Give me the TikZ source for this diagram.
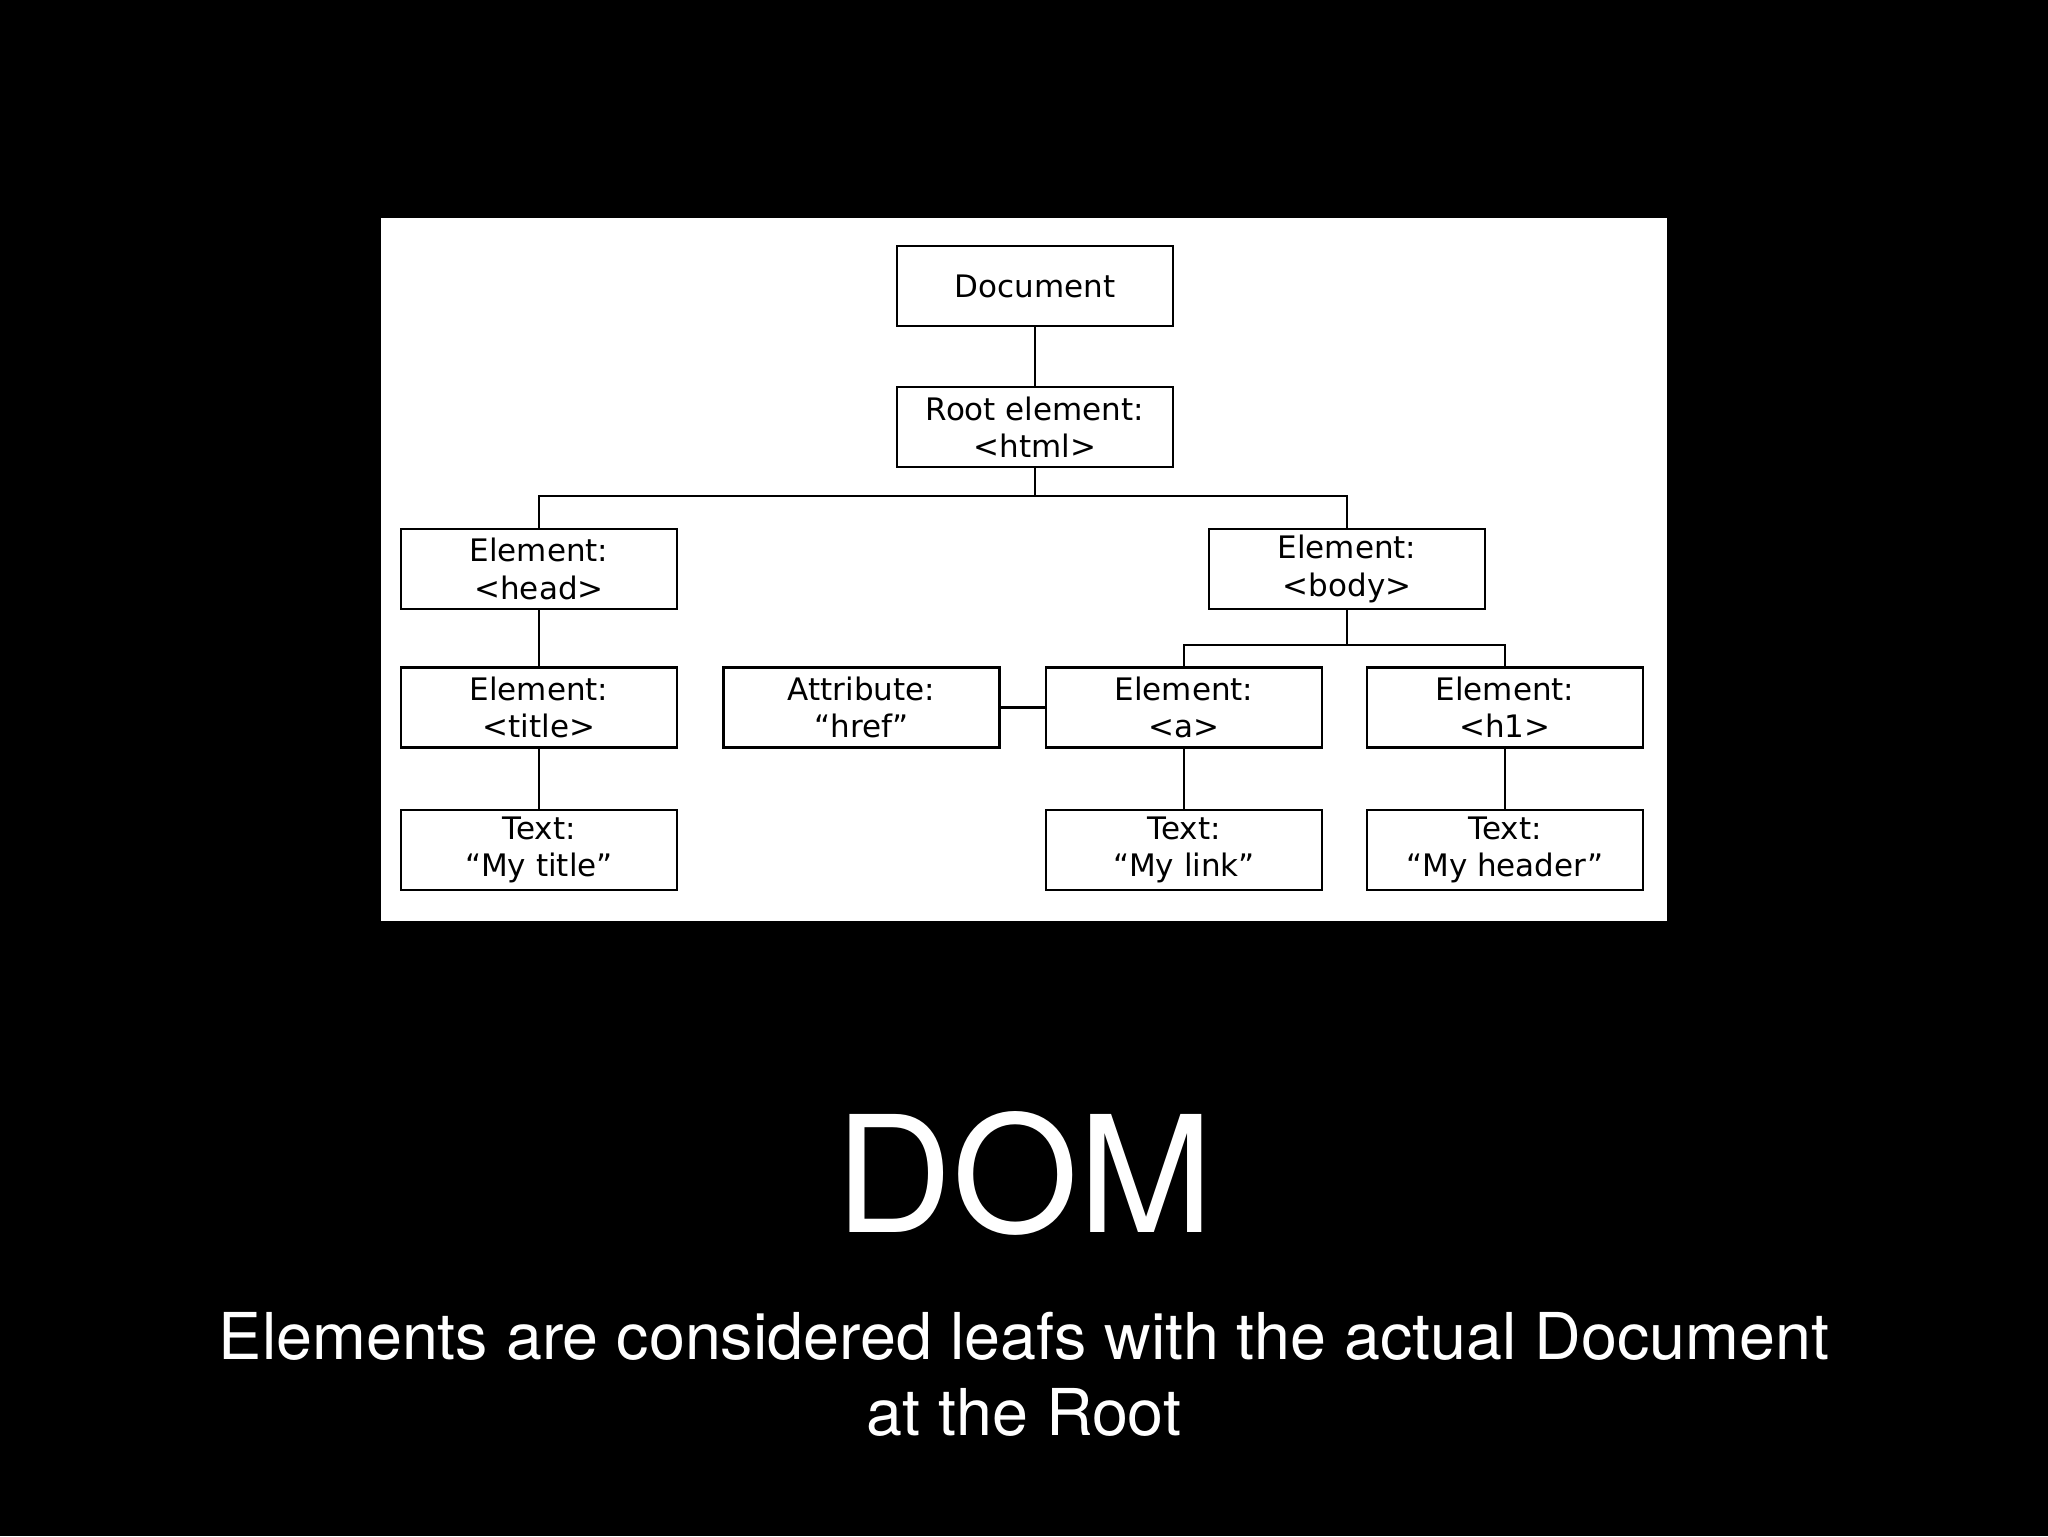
\documentclass[tikz,border=0pt]{standalone}
\usepackage{fontspec}
\newfontfamily\boxfont{DejaVu Sans}
\newfontfamily\slidefont{TeX Gyre Heros}
\begin{document}
\begin{tikzpicture}[x=0.5pt,y=-0.5pt,
  dombox/.style={draw=black, line width=1.4pt, fill=white, minimum width=138pt, minimum height=40pt, inner sep=0pt, align=center, font=\boxfont\fontsize{15.5}{18.6}\selectfont},
  link/.style={draw=black, line width=1.4pt},
  slidetext/.style={text=white, anchor=base, inner sep=0pt}]
\fill[black] (0,0) rectangle (2048,1536);
\useasboundingbox (0,0) rectangle (2048,1536);
\fill[white] (381,218) rectangle (1667,921);
\node[dombox] (doc) at (1035,286) {Document};
\node[dombox] (root) at (1035,427) {Root element:\\<html>};
\node[dombox] (head) at (539,569) {Element:\\<head>};
\node[dombox] (body) at (1347,569) {Element:\\<body>};
\node[dombox] (title) at (539,707.5) {Element:\\<title>};
\node[dombox] (attr) at (861.5,707.5) {Attribute:\\“href”};
\node[dombox] (a) at (1184,707.5) {Element:\\<a>};
\node[dombox] (h1) at (1505,707.5) {Element:\\<h1>};
\node[dombox] (ttext) at (539,850) {Text:\\“My title”};
\node[dombox] (ltext) at (1184,850) {Text:\\“My link”};
\node[dombox] (htext) at (1505,850) {Text:\\“My header”};
\coordinate (j1) at (1035,496);
\coordinate (j2) at (1345,645);
\draw[link] (doc) -- (root);
\draw[link] (root) -- (j1);
\draw[link] (head.north) |- (j1) -| (body.north);
\draw[link] (head) -- (title);
\draw[link] (title) -- (ttext);
\draw[link] (body.south) -- (body.south |- j2);
\draw[link] (a.north) |- (j2) -| (h1.north);
\draw[link] (attr) -- (a);
\draw[link] (a) -- (ltext);
\draw[link] (h1) -- (htext);
\node[slidetext, font=\slidefont\fontsize{81}{90}\selectfont] (dom) at (1024,1232) {DOM};
\node[slidetext, font=\slidefont\fontsize{32.3}{37}\selectfont] (sub1) at (1024,1359) {Elements are considered leafs with the actual Document};
\node[slidetext, font=\slidefont\fontsize{32.3}{37}\selectfont] (sub2) at (1024,1435) {at the Root};
\end{tikzpicture}
\end{document}
